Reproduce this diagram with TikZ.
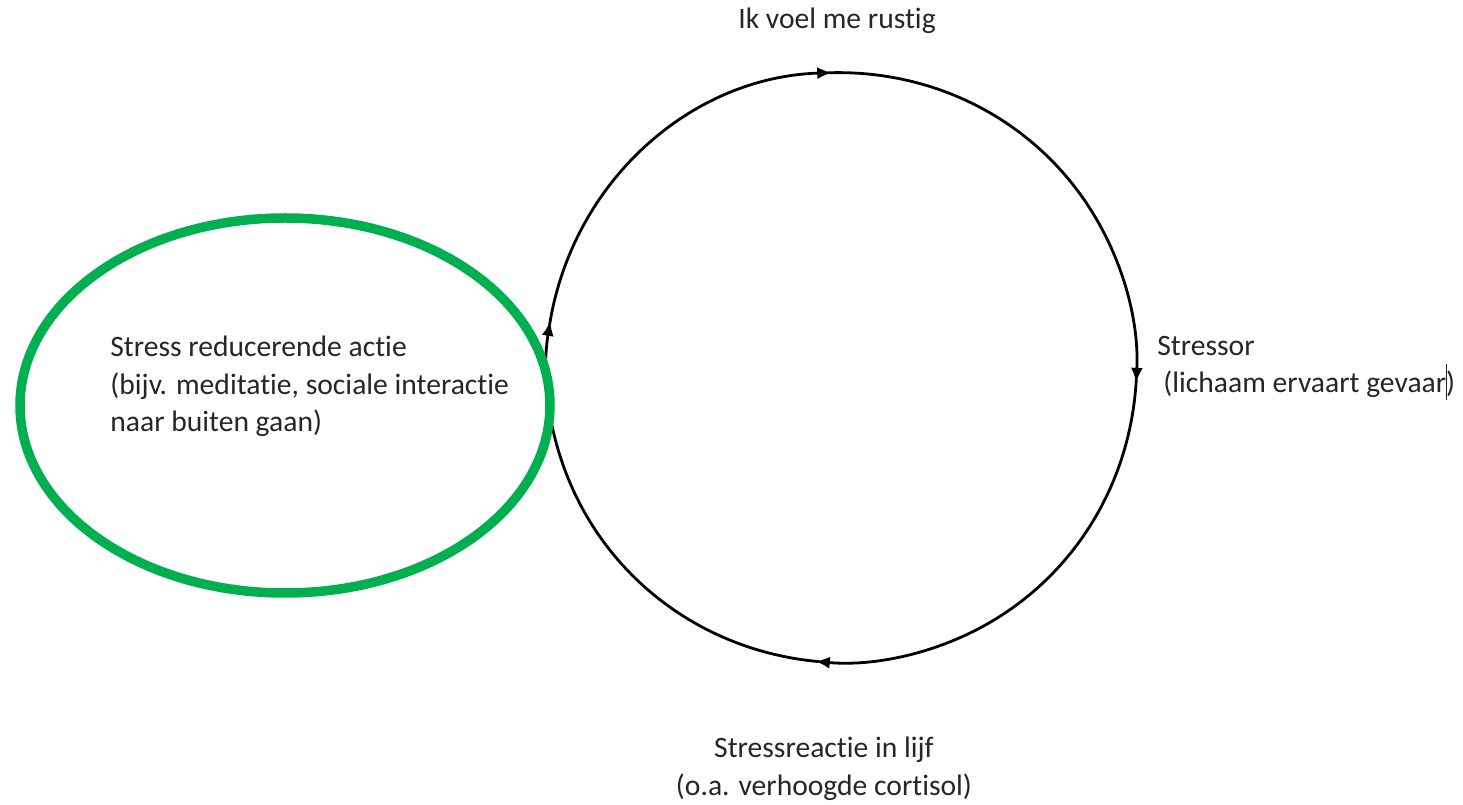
\documentclass[tikz,border=0pt]{standalone}
\usepackage{fontspec}
\setmainfont[Ligatures=CommonOff]{Carlito}
\usepackage{tikz}
\usetikzlibrary{arrows.meta,positioning,shapes.geometric}
\definecolor{officegreen}{HTML}{00B050}
\tikzset{%
    caption/.style={%
        font=\fontsize{14.8pt}{18.75pt}\selectfont, inner sep=0pt, text=black!85
    },
    cyclearc/.style={%
        line width=1.4pt, shorten <=-2pt, -{Latex[length=7.5pt,width=6pt]}
    }
}

\begin{document}
\begin{tikzpicture}[x=0.5pt, y=0.5pt]
    \useasboundingbox (0,0) rectangle (1463,804);

    \coordinate (loop) at (841.5,436.5);
    \path (loop) ++(91.8:295) coordinate (tocalm);
    \path (loop) ++(-3:295) coordinate (tostressor);
    \path (loop) ++(-95.2:295) coordinate (toreaction);
    \path (loop) ++(170.9:295) coordinate (toaction);

    \node[caption, anchor=base] (calm) at (837,775) {Ik voel me rustig};
    \node[caption, anchor=base west, align=left] (stressor) at (1157,411)
        {Stressor\\\hspace*{3pt}(lichaam ervaart gevaar\makebox[0pt]{\rule[-3.5pt]{0.6pt}{18pt}})};
    \node[caption, anchor=base, align=center] (reaction) at (824,9)
        {Stressreactie in lijf\\(o.a. verhoogde cortisol)};
    \node[caption, anchor=base west, align=left] (action) at (110,372)
        {Stress reducerende actie\\(bijv. meditatie, sociale interactie\\naar buiten gaan)};

    \draw[cyclearc] (tocalm) arc[start angle=91.8, end angle=-3, radius=147.5pt];
    \draw[cyclearc] (tostressor) arc[start angle=-3, end angle=-95.2, radius=147.5pt];
    \draw[cyclearc] (toreaction) arc[start angle=264.8, end angle=170.9, radius=147.5pt];
    \draw[cyclearc] (toaction) arc[start angle=170.9, end angle=91.8, radius=147.5pt];

    \node[ellipse, draw=officegreen, line width=4.75pt, minimum width=265pt, minimum height=187.5pt] (relief) at (285,398.5) {};
\end{tikzpicture}
\end{document}
